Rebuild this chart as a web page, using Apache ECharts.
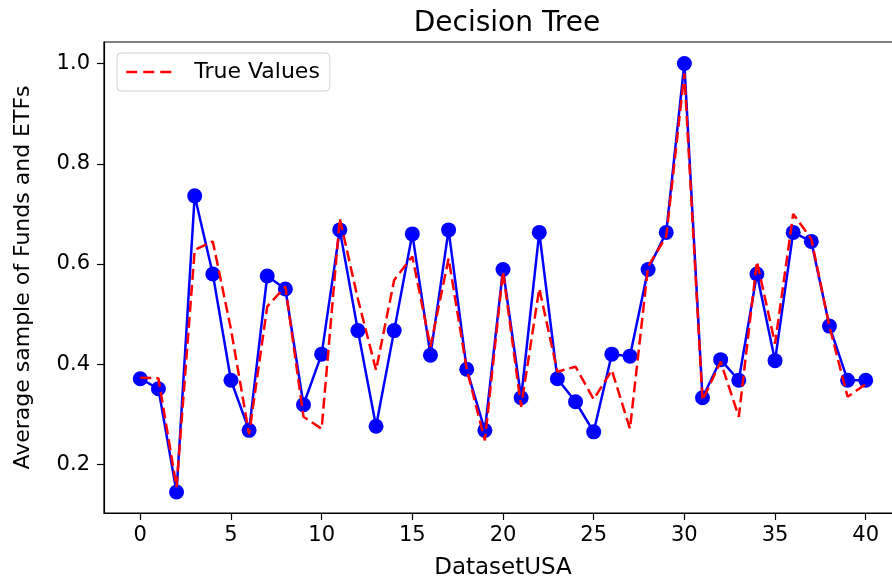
<!DOCTYPE html>
<html>
<head>
<meta charset="utf-8">
<script src="https://cdn.jsdelivr.net/npm/echarts@6/dist/echarts.min.js"></script>
<style>html,body{margin:0;padding:0;background:#fff;overflow:hidden;}#c{width:892px;height:584px;}</style>
</head>
<body>
<div id="c"></div>
<script>
const xTicks = [0, 5, 10, 15, 20, 25, 30, 35, 40];
const yTicks = [0.2, 0.4, 0.6, 0.8, 1.0];
const predicted = [0.371, 0.351, 0.145, 0.736, 0.580, 0.368, 0.268, 0.576, 0.550, 0.319,
  0.420, 0.668, 0.467, 0.276, 0.467, 0.660, 0.418, 0.668, 0.390, 0.268,
  0.589, 0.333, 0.663, 0.371, 0.325, 0.265, 0.420, 0.416, 0.589, 0.663,
  1.000, 0.333, 0.409, 0.368, 0.580, 0.407, 0.663, 0.645, 0.476, 0.368, 0.368];
const trueValues = [0.373, 0.372, 0.155, 0.628, 0.645, 0.470, 0.260, 0.515, 0.555, 0.295,
  0.271, 0.691, 0.530, 0.388, 0.568, 0.615, 0.435, 0.611, 0.390, 0.248,
  0.585, 0.315, 0.551, 0.385, 0.395, 0.330, 0.388, 0.271, 0.595, 0.655,
  0.980, 0.328, 0.405, 0.295, 0.605, 0.441, 0.700, 0.650, 0.475, 0.335, 0.360];

const F = 'DejaVu Sans';
const chart = echarts.init(document.getElementById('c'), null, {renderer: 'canvas'});
chart.setOption({
  animation: false,
  backgroundColor: '#fff',
  title: {
    text: 'Decision Tree', left: 502, top: 5, textAlign: 'center',
    textStyle: {fontFamily: F, fontSize: 28, fontWeight: 'normal', color: '#000'}
  },
  grid: {left: 104, top: 42, height: 471, width: 798, show: true, borderColor: '#000', borderWidth: 1.2,
    containLabel: false, outerBoundsMode: 'none'},
  legend: {
    data: ['True Values'], left: 117, top: 53, orient: 'vertical',
    padding: [8, 10, 8, 8], itemWidth: 47, itemHeight: 14,
    backgroundColor: 'rgba(255,255,255,0.8)', borderColor: '#d0d0d0', borderWidth: 1, borderRadius: 4,
    itemStyle: {opacity: 0},
    lineStyle: {width: 2.5, type: [11, 6]},
    textStyle: {fontFamily: F, fontSize: 22, color: '#000', padding: [0, 0, 0, 16]}
  },
  xAxis: {
    type: 'value', min: -2, max: 42,
    name: 'DatasetUSA', nameLocation: 'middle', nameGap: 44,
    nameTextStyle: {fontFamily: F, fontSize: 23, color: '#000'},
    axisLine: {show: true, onZero: false, lineStyle: {color: '#000', width: 1.2}},
    axisTick: {show: true, length: 7, lineStyle: {color: '#000', width: 1.2}, customValues: xTicks},
    axisLabel: {fontFamily: F, fontSize: 21, color: '#000', margin: 12, customValues: xTicks},
    splitLine: {show: false}
  },
  yAxis: {
    type: 'value', min: 0.103, max: 1.043,
    name: 'Average sample of Funds and ETFs', nameLocation: 'middle', nameGap: 70,
    nameTextStyle: {fontFamily: F, fontSize: 22, color: '#000'},
    axisLine: {show: true, onZero: false, lineStyle: {color: '#000', width: 1.2}},
    axisTick: {show: true, length: 7, lineStyle: {color: '#000', width: 1.2}, customValues: yTicks},
    axisLabel: {fontFamily: F, fontSize: 21, color: '#000', margin: 14, customValues: yTicks,
      formatter: v => v.toFixed(1)},
    splitLine: {show: false}
  },
  series: [
    {
      name: 'Predicted', type: 'line',
      data: predicted.map((v, i) => [i, v]),
      symbol: 'circle', symbolSize: 15, showSymbol: true,
      itemStyle: {color: '#0000ff'},
      lineStyle: {color: '#0000ff', width: 2.5},
      z: 2
    },
    {
      name: 'True Values', type: 'line',
      data: trueValues.map((v, i) => [i, v]),
      symbol: 'none', showSymbol: false,
      itemStyle: {color: '#ff0000'},
      lineStyle: {color: '#ff0000', width: 2.5, type: [11, 5]},
      z: 3
    }
  ]
});
</script>
</body>
</html>
